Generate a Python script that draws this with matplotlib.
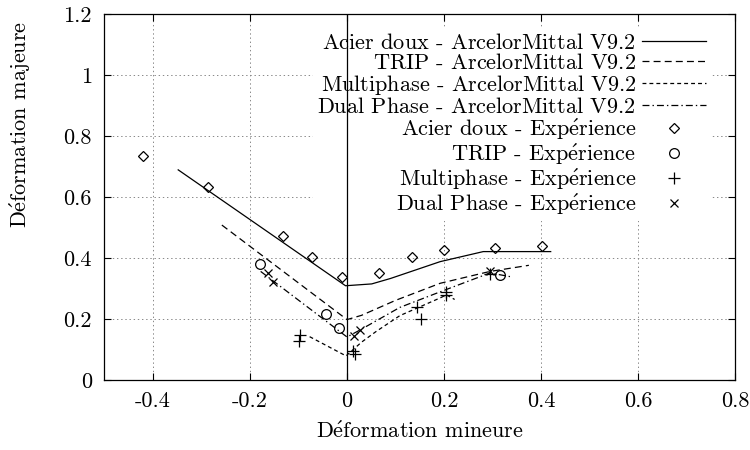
import matplotlib
matplotlib.use("Agg")
import matplotlib.pyplot as plt
from matplotlib.ticker import FuncFormatter

plt.rcParams['font.family'] = ['cmr10', 'DejaVu Serif']
plt.rcParams['mathtext.fontset'] = 'cm'
plt.rcParams['font.size'] = 16
plt.rcParams['axes.unicode_minus'] = False
plt.rcParams['lines.scale_dashes'] = False

E = r'$\acute{\mathrm{e}}$'
STRUT = r'$\,$'  # same line box height as the accented labels

# simulated FLCs (ArcelorMittal V9.2)
acier_sim_x = [-0.348, -0.003, 0.051, 0.09, 0.192, 0.281, 0.42]
acier_sim_y = [0.69, 0.31, 0.316, 0.334, 0.389, 0.422, 0.422]
trip_sim_x = [-0.258, 0.0, 0.03, 0.1, 0.192, 0.295, 0.375]
trip_sim_y = [0.509, 0.199, 0.213, 0.262, 0.318, 0.357, 0.377]
multi_sim_x = [-0.077, -0.002, 0.03, 0.06, 0.109, 0.192, 0.205, 0.222]
multi_sim_y = [0.143, 0.08, 0.125, 0.16, 0.212, 0.27, 0.28, 0.265]
dual_sim_x = [-0.178, 0.0, 0.027, 0.109, 0.192, 0.295, 0.336]
dual_sim_y = [0.357, 0.142, 0.165, 0.239, 0.29, 0.352, 0.34]

# experimental points
acier_exp_x = [-0.421, -0.287, -0.131, -0.073, -0.011, 0.066, 0.135, 0.201, 0.305, 0.403]
acier_exp_y = [0.735, 0.634, 0.473, 0.405, 0.338, 0.351, 0.403, 0.428, 0.435, 0.441]
trip_exp_x = [-0.179, -0.043, -0.016, 0.315]
trip_exp_y = [0.38, 0.217, 0.17, 0.345]
multi_exp_x = [-0.097, -0.099, 0.012, 0.016, 0.145, 0.153, 0.204, 0.204, 0.295]
multi_exp_y = [0.148, 0.13, 0.097, 0.085, 0.241, 0.201, 0.29, 0.28, 0.35]
dual_exp_x = [-0.162, -0.152, 0.014, 0.027, 0.295]
dual_exp_y = [0.351, 0.321, 0.145, 0.165, 0.358]

xticks = [-0.4, -0.2, 0, 0.2, 0.4, 0.6, 0.8]
yticks = [0, 0.2, 0.4, 0.6, 0.8, 1.0, 1.2]

fig = plt.figure(figsize=(7.5, 4.5), dpi=100)
ax = fig.add_axes([0.1393, 0.1549, 0.8407, 0.8133])

lw = 0.9
ax.plot(acier_sim_x, acier_sim_y, color='black', lw=lw,
        label='Acier doux - ArcelorMittal V9.2' + STRUT)
ax.plot(trip_sim_x, trip_sim_y, color='black', lw=lw, dashes=(5, 3),
        label='TRIP - ArcelorMittal V9.2' + STRUT)
ax.plot(multi_sim_x, multi_sim_y, color='black', lw=lw, dashes=(2.8, 2.2),
        label='Multiphase - ArcelorMittal V9.2' + STRUT)
ax.plot(dual_sim_x, dual_sim_y, color='black', lw=lw, dashes=(5, 2.2, 1, 2.2),
        label='Dual Phase - ArcelorMittal V9.2' + STRUT)

ax.plot(acier_exp_x, acier_exp_y, ls='none', marker='D', ms=5, mfc='none', mec='black', mew=0.9,
        label='Acier doux - Exp' + E + 'rience')
ax.plot(trip_exp_x, trip_exp_y, ls='none', marker='o', ms=7, mfc='none', mec='black', mew=0.9,
        label='TRIP - Exp' + E + 'rience')
ax.plot(multi_exp_x, multi_exp_y, ls='none', marker='+', ms=8, mec='black', mew=0.9,
        label='Multiphase - Exp' + E + 'rience')
ax.plot(dual_exp_x, dual_exp_y, ls='none', marker='x', ms=5.5, mec='black', mew=0.9,
        label='Dual Phase - Exp' + E + 'rience')

ax.axvline(0, color='black', lw=0.9, zorder=6)

ax.set_xlim(-0.5, 0.8)
ax.set_ylim(0, 1.2)
ax.set_xticks(xticks)
ax.set_yticks(yticks)
fmt = FuncFormatter(lambda v, _: f"{v:g}")
ax.xaxis.set_major_formatter(fmt)
ax.yaxis.set_major_formatter(fmt)
ax.tick_params(direction='in', length=5, width=0.8, top=True, right=True)
ax.tick_params(axis='x', pad=8)
ax.tick_params(axis='y', pad=9)
ax.grid(True, color='#888888', ls=(0, (1, 2)), lw=0.7)
ax.set_axisbelow(True)
for s in ax.spines.values():
    s.set_linewidth(0.9)

ax.set_xlabel('D' + E + 'formation mineure')
ax.set_ylabel('D' + E + 'formation majeure')
ax.xaxis.set_label_coords(0.5, -0.111)
ax.yaxis.set_label_coords(-0.113, 0.698)

leg = ax.legend(loc='upper right', bbox_to_anchor=(0.979, 0.992), markerfirst=False,
                frameon=True, fancybox=False, framealpha=1, edgecolor='none',
                handlelength=2.9, handletextpad=0.25, labelspacing=0.0, borderpad=0.2)
# gnuplot-style key: labels right-aligned against the samples
for col in leg._legend_box._children[-1]._children:
    col.align = 'right'

fig.savefig('out.png', dpi=100)
